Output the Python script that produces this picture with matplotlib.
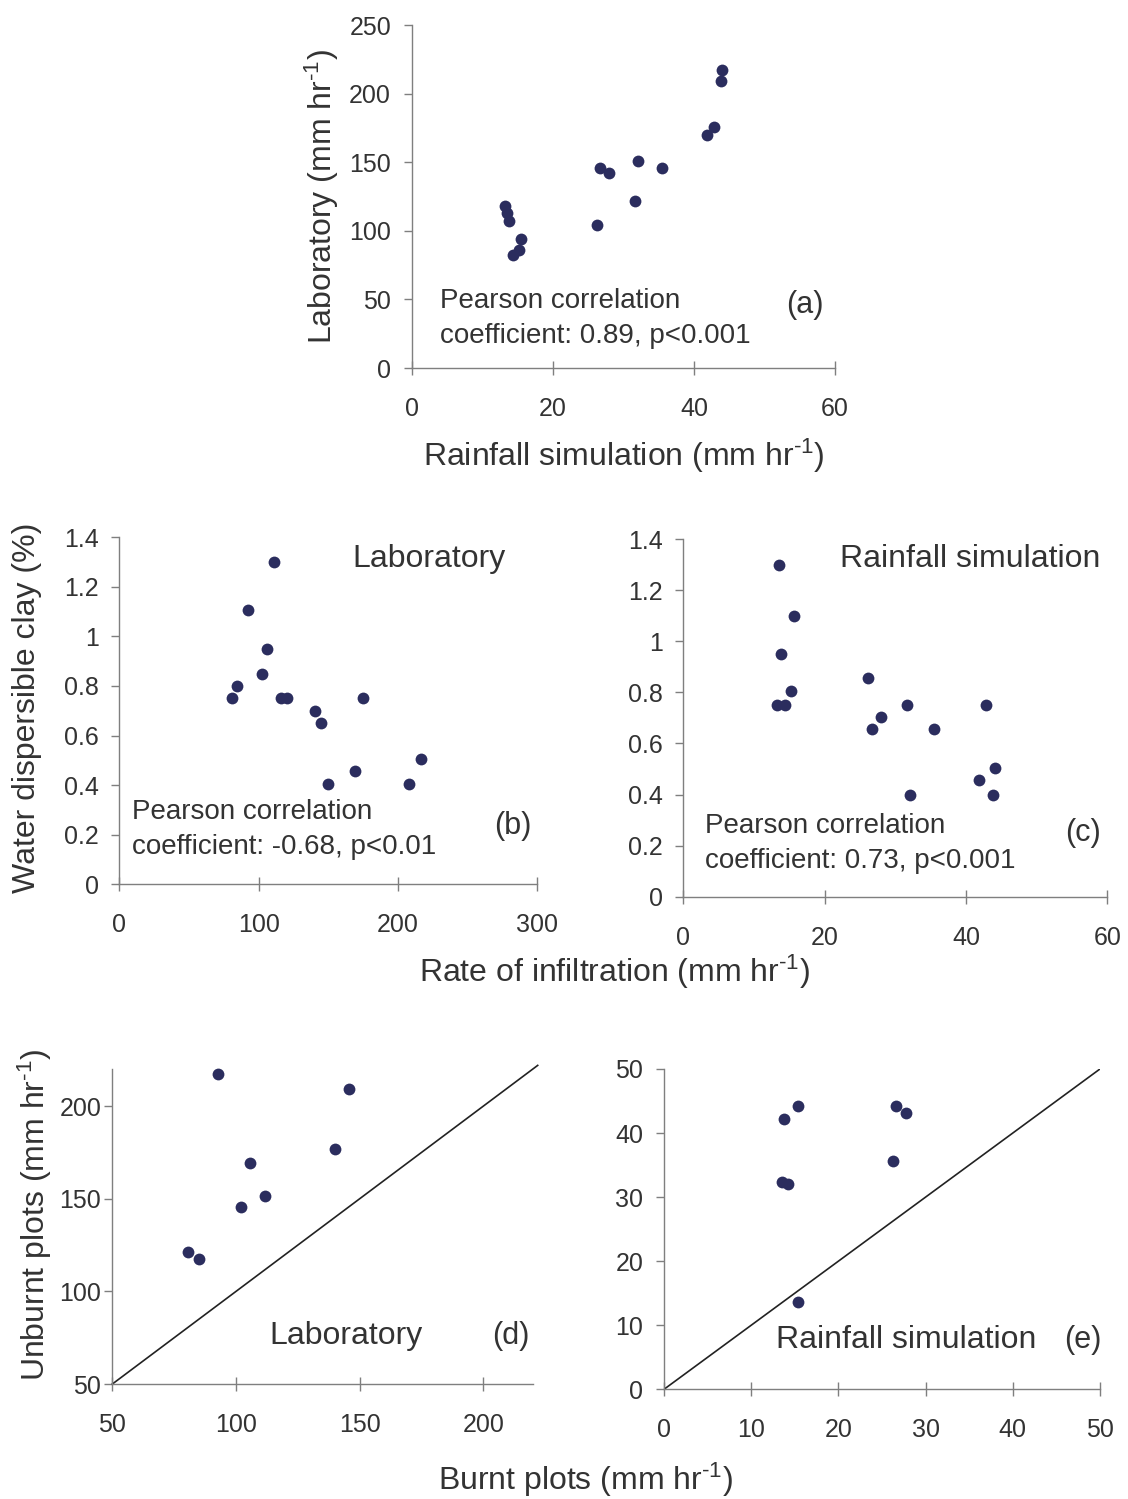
import matplotlib
matplotlib.use("Agg")
import matplotlib.pyplot as plt

plt.rcParams['font.family'] = ['Liberation Sans', 'DejaVu Sans']
plt.rcParams['mathtext.fontset'] = 'custom'
plt.rcParams['mathtext.rm'] = 'Liberation Sans'
plt.rcParams['mathtext.default'] = 'regular'

# (a) rainfall simulation vs laboratory infiltration
a_rain = [44.0, 43.8, 42.8, 41.8, 32.1, 26.7, 27.9, 35.4, 31.6, 26.2,
          13.2, 13.5, 13.8, 15.5, 15.2, 14.3]
a_lab = [217, 209.5, 176, 170, 151, 146, 142, 146, 121.5, 104,
         118, 113, 107, 94, 86, 82.5]

# (b) laboratory infiltration vs water dispersible clay
b_rate = [111, 92.4, 106.3, 102.4, 84.7, 81.1, 116.1, 120.2, 175.2, 140.3,
          145, 216.6, 169, 150, 208]
b_wdc = [1.30, 1.105, 0.95, 0.85, 0.80, 0.75, 0.75, 0.75, 0.75, 0.70,
         0.65, 0.505, 0.455, 0.405, 0.405]

# (c) rainfall simulation infiltration vs water dispersible clay
c_rate = [13.6, 15.6, 13.8, 15.3, 13.2, 14.4, 26.2, 27.9, 26.7, 31.7,
          35.4, 32.1, 42.8, 44.1, 41.8, 43.8]
c_wdc = [1.30, 1.10, 0.95, 0.805, 0.75, 0.75, 0.855, 0.705, 0.655, 0.75,
         0.655, 0.40, 0.75, 0.505, 0.455, 0.40]

# (d) burnt vs unburnt, laboratory
d_burnt = [92.7, 145.8, 140.2, 105.5, 111.9, 102.0, 80.7, 84.9]
d_unburnt = [217.6, 209, 177, 169.5, 151.5, 145.7, 121.3, 117.5]

# (e) burnt vs unburnt, rainfall simulation
e_burnt = [15.4, 13.7, 26.6, 27.8, 26.2, 13.5, 14.2, 15.4]
e_unburnt = [44.2, 42.2, 44.2, 43.1, 35.7, 32.4, 32.1, 13.6]

dot_col = '#2b2d5e'
txt_col = '#333333'
spine_col = '#7f7f7f'
unit = ' (mm hr$^{\\text{-1}}$)'

fig = plt.figure(figsize=(11.28, 14.99), dpi=100)


def style(ax):
    for s in ['top', 'right']:
        ax.spines[s].set_visible(False)
    for s in ['left', 'bottom']:
        ax.spines[s].set_color(spine_col)
        ax.spines[s].set_linewidth(1.0)
    ax.tick_params(axis='y', direction='out', length=6, width=1,
                   color=spine_col, labelsize=18, labelcolor=txt_col, pad=9)
    ax.tick_params(axis='x', direction='inout', length=10, width=1,
                   color=spine_col, labelsize=18, labelcolor=txt_col, pad=16)


def dots(ax, x, y):
    ax.plot(x, y, 'o', color=dot_col, ms=8.5, mec='none', clip_on=False)


def pearson(ax, x, y, s):
    ax.text(x, y, 'Pearson correlation\n' + s, transform=ax.transAxes,
            fontsize=20, color=txt_col, va='center', ha='left',
            linespacing=1.45)


def tag(ax, x, y, s):
    ax.text(x, y, s, transform=ax.transAxes, fontsize=22, color=txt_col,
            ha='center', va='center')


# panel (a)
ax_a = fig.add_axes([0.3652, 0.7545, 0.375, 0.2288])
dots(ax_a, a_rain, a_lab)
ax_a.set_xlim(0, 60)
ax_a.set_ylim(0, 250)
ax_a.set_xticks([0, 20, 40, 60])
ax_a.set_yticks([0, 50, 100, 150, 200, 250])
style(ax_a)
ax_a.set_xlabel('Rainfall simulation' + unit, fontsize=23,
                color=txt_col, labelpad=11)
ax_a.set_ylabel('Laboratory' + unit, fontsize=23, color=txt_col,
                labelpad=6)
pearson(ax_a, 0.066, 0.144, 'coefficient: 0.89, p<0.001')
tag(ax_a, 0.929, 0.184, '(a)')

# panel (b)
ax_b = fig.add_axes([0.1058, 0.4101, 0.3706, 0.2315])
dots(ax_b, b_rate, b_wdc)
ax_b.set_xlim(0, 300)
ax_b.set_ylim(0, 1.4)
ax_b.set_xticks([0, 100, 200, 300])
ax_b.set_yticks([0, 0.2, 0.4, 0.6, 0.8, 1.0, 1.2, 1.4])
ax_b.set_yticklabels(['0', '0.2', '0.4', '0.6', '0.8', '1', '1.2', '1.4'])
style(ax_b)
ax_b.text(0.74, 0.9375, 'Laboratory', transform=ax_b.transAxes,
          fontsize=23, color=txt_col, ha='center', va='center')
pearson(ax_b, 0.030, 0.158, 'coefficient: -0.68, p<0.01')
tag(ax_b, 0.942, 0.169, '(b)')

# panel (c)
ax_c = fig.add_axes([0.6058, 0.4018, 0.3759, 0.2386])
dots(ax_c, c_rate, c_wdc)
ax_c.set_xlim(0, 60)
ax_c.set_ylim(0, 1.4)
ax_c.set_xticks([0, 20, 40, 60])
ax_c.set_yticks([0, 0.2, 0.4, 0.6, 0.8, 1.0, 1.2, 1.4])
ax_c.set_yticklabels(['0', '0.2', '0.4', '0.6', '0.8', '1', '1.2', '1.4'])
style(ax_c)
ax_c.text(0.677, 0.944, 'Rainfall simulation', transform=ax_c.transAxes,
          fontsize=23, color=txt_col, ha='center', va='center')
pearson(ax_c, 0.051, 0.149, 'coefficient: 0.73, p<0.001')
tag(ax_c, 0.943, 0.178, '(c)')

fig.text(27 / 1128, 1 - 708 / 1499, 'Water dispersible clay (%)', fontsize=23,
         color=txt_col, rotation=90, ha='center', va='center')
fig.text(615 / 1128, 1 - 972 / 1499, 'Rate of infiltration' + unit,
         fontsize=23, color=txt_col, ha='center', va='center')

# panel (d)
ax_d = fig.add_axes([0.0996, 0.0767, 0.3727, 0.2101])
dots(ax_d, d_burnt, d_unburnt)
ax_d.plot([50, 222], [50, 222], '-', color='#222222', lw=1.2, clip_on=False)
ax_d.set_xlim(50, 220)
ax_d.set_ylim(50, 220)
ax_d.set_xticks([50, 100, 150, 200])
ax_d.set_yticks([50, 100, 150, 200])
style(ax_d)
ax_d.tick_params(axis='y', pad=2)
ax_d.text(0.556, 0.152, 'Laboratory', transform=ax_d.transAxes,
          fontsize=23, color=txt_col, ha='center', va='center')
tag(ax_d, 0.948, 0.152, '(d)')

# panel (e)
ax_e = fig.add_axes([0.5887, 0.0732, 0.3865, 0.2137])
dots(ax_e, e_burnt, e_unburnt)
ax_e.plot([0, 50], [0, 50], '-', color='#222222', lw=1.2)
ax_e.set_xlim(0, 50)
ax_e.set_ylim(0, 50)
ax_e.set_xticks([0, 10, 20, 30, 40, 50])
ax_e.set_yticks([0, 10, 20, 30, 40, 50])
style(ax_e)
ax_e.text(0.556, 0.154, 'Rainfall simulation', transform=ax_e.transAxes,
          fontsize=23, color=txt_col, ha='center', va='center')
tag(ax_e, 0.961, 0.154, '(e)')

fig.text(35 / 1128, 1 - 1215 / 1499, 'Unburnt plots' + unit,
         fontsize=23, color=txt_col, rotation=90, ha='center', va='center')
fig.text(585 / 1128, 1 - 1480 / 1499, 'Burnt plots' + unit,
         fontsize=23, color=txt_col, ha='center', va='center')

fig.savefig('out.png', dpi=100)
